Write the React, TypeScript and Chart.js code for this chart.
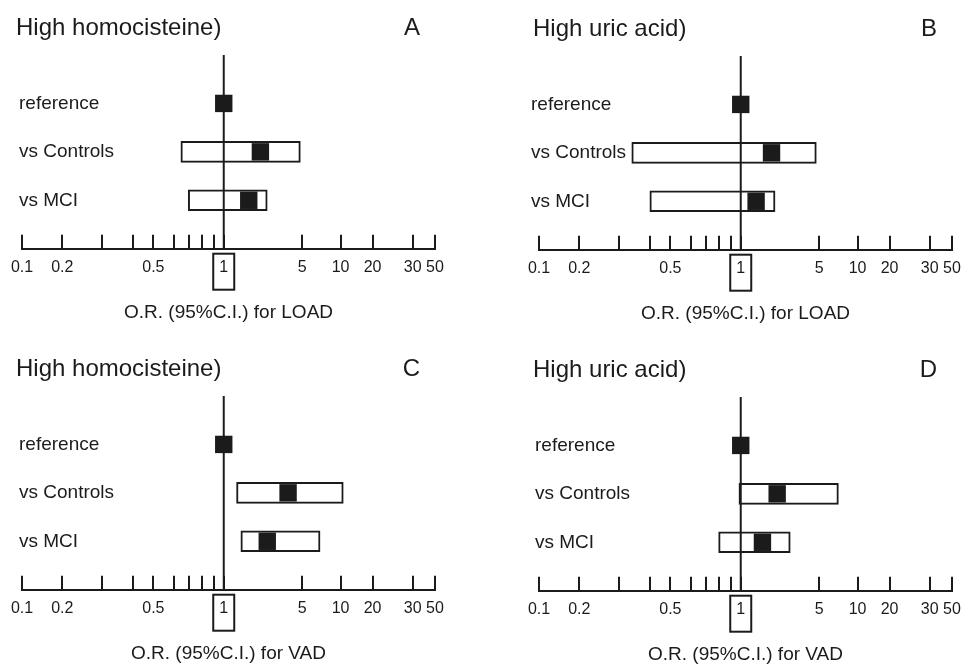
import React, { useEffect, useRef } from 'react';
import { Chart, registerables, LinearScale } from 'chart.js';

Chart.register(...registerables);

// ---------- data ----------
const ROWS = ['reference', 'vs Controls', 'vs MCI'];
const X_TICKS = [0.1, 0.2, 0.3, 0.4, 0.5, 0.6, 0.7, 0.8, 0.9, 1, 5, 10, 20, 30, 50];
const X_LABELED = [0.1, 0.2, 0.5, 1, 5, 10, 20, 30, 50];
const REF_VALUE = 1;

const PANEL_TITLES = ['High homocisteine)', 'High uric acid)', 'High homocisteine)', 'High uric acid)'];
const PANEL_LETTERS = ['A', 'B', 'C', 'D'];
const AXIS_TITLES = [
  'O.R. (95%C.I.) for LOAD',
  'O.R. (95%C.I.) for LOAD',
  'O.R. (95%C.I.) for VAD',
  'O.R. (95%C.I.) for VAD',
];

// A: homocysteine, LOAD
const OR_LOAD_HCY = [1, 2.12, 1.67];
const LOW_LOAD_HCY = [null, 0.644, 0.694];
const HIGH_LOAD_HCY = [null, 4.81, 2.44];
// B: uric acid, LOAD
const OR_LOAD_UA = [1, 1.88, 1.37];
const LOW_LOAD_UA = [null, 0.337, 0.4];
const HIGH_LOAD_UA = [null, 4.71, 2.02];
// C: homocysteine, VAD
const OR_VAD_HCY = [1, 3.74, 2.44];
const LOW_VAD_HCY = [null, 1.3, 1.42];
const HIGH_VAD_HCY = [null, 10.6, 6.9];
// D: uric acid, VAD
const OR_VAD_UA = [1, 2.11, 1.56];
const LOW_VAD_UA = [null, 0.98, 0.8];
const HIGH_VAD_UA = [null, 7.07, 2.76];

const PANEL_DATA = [
  { or: OR_LOAD_HCY, low: LOW_LOAD_HCY, high: HIGH_LOAD_HCY },
  { or: OR_LOAD_UA, low: LOW_LOAD_UA, high: HIGH_LOAD_UA },
  { or: OR_VAD_HCY, low: LOW_VAD_HCY, high: HIGH_VAD_HCY },
  { or: OR_VAD_UA, low: LOW_VAD_UA, high: HIGH_VAD_UA },
];

// ---------- axis geometry (hand-drawn, non-uniform log axis) ----------
const AXIS_SPAN = 412.5;
const X_TICK_FRACTIONS = [0, 40.2, 80.4, 110.7, 131.2, 151.7, 166.9, 179.4, 192, 201.5, 279.9, 318.2, 350.2, 390.2, 412.5].map(
  (v) => v / AXIS_SPAN
);

function segmentFor(v: number): number {
  const n = X_TICKS.length;
  if (v <= X_TICKS[0]) return 0;
  if (v >= X_TICKS[n - 1]) return n - 2;
  let i = 0;
  while (i < n - 2 && v > X_TICKS[i + 1]) i++;
  return i;
}
function valueToFraction(v: number): number {
  const i = segmentFor(v);
  const t = Math.log(v / X_TICKS[i]) / Math.log(X_TICKS[i + 1] / X_TICKS[i]);
  return X_TICK_FRACTIONS[i] + t * (X_TICK_FRACTIONS[i + 1] - X_TICK_FRACTIONS[i]);
}
function fractionToValue(f: number): number {
  const n = X_TICK_FRACTIONS.length;
  let i = 0;
  while (i < n - 2 && f > X_TICK_FRACTIONS[i + 1]) i++;
  const t = (f - X_TICK_FRACTIONS[i]) / (X_TICK_FRACTIONS[i + 1] - X_TICK_FRACTIONS[i]);
  return X_TICKS[i] * Math.pow(X_TICKS[i + 1] / X_TICKS[i], t);
}

class HandDrawnLogScale extends LinearScale {
  static id = 'handlog';
  static defaults = {};
  determineDataLimits() {
    (this as any).min = X_TICKS[0];
    (this as any).max = X_TICKS[X_TICKS.length - 1];
  }
  buildTicks() {
    return X_TICKS.map((value) => ({ value }));
  }
  getPixelForValue(value: any) {
    if (value === null || value === undefined || !(value > 0)) return NaN;
    return (this as any).getPixelForDecimal(valueToFraction(value));
  }
  getValueForPixel(pixel: number) {
    return fractionToValue((this as any).getDecimalForPixel(pixel));
  }
}
Chart.register(HandDrawnLogScale as any);

// ---------- styles ----------
const INK = '#1b1b1b';
const FONT = "'Liberation Sans', Arial, Helvetica, sans-serif";
const CANVAS_W = 449;
const CANVAS_H = 325;
const PANEL_POS = [
  { left: 0, top: 0, labelPad: -3 },
  { left: 517, top: 1, labelPad: -8 },
  { left: 0, top: 341, labelPad: -3 },
  { left: 517, top: 342, labelPad: -4 },
];

const decorPlugin = {
  id: 'decor',
  afterDatasetsDraw(chart: any) {
    const { ctx, chartArea } = chart;
    const px = chart.scales.x.getPixelForValue(REF_VALUE);
    ctx.save();
    ctx.strokeStyle = INK;
    ctx.lineWidth = 2;
    ctx.beginPath();
    ctx.moveTo(px, chartArea.top);
    ctx.lineTo(px, chartArea.bottom);
    ctx.stroke();
    ctx.restore();
  },
  afterDraw(chart: any, _args: any, opts: any) {
    const { ctx, chartArea } = chart;
    const px = chart.scales.x.getPixelForValue(REF_VALUE);
    ctx.save();
    // box around the "1" label
    ctx.strokeStyle = INK;
    ctx.lineWidth = 2;
    ctx.strokeRect(px - 10.5, chartArea.bottom + 5, 21, 36);
    // panel letter
    ctx.fillStyle = INK;
    ctx.font = `24px ${FONT}`;
    ctx.textAlign = 'right';
    ctx.textBaseline = 'middle';
    ctx.fillText(opts.letter, chartArea.right - 15, chartArea.top - 26.5);
    ctx.restore();
  },
};

function buildConfig(idx: number): any {
  const d = PANEL_DATA[idx];
  const barData: any[] = [];
  const pointData: any[] = [];
  ROWS.forEach((_r, i) => {
    if (d.low[i] !== null && d.high[i] !== null) {
      barData.push({ y: i, x: [d.low[i], d.high[i]] });
    }
    pointData.push({ y: i, x: d.or[i] });
  });

  return {
    type: 'bar',
    data: {
      datasets: [
        {
          type: 'bar',
          label: '95% C.I.',
          data: barData,
          backgroundColor: '#ffffff',
          borderColor: INK,
          borderWidth: 2,
          borderSkipped: false,
          barThickness: 21,
          order: 2,
        },
        {
          type: 'line',
          label: 'O.R.',
          data: pointData,
          showLine: false,
          pointStyle: 'rect',
          pointRadius: 12.3,
          pointHoverRadius: 12.3,
          pointBackgroundColor: INK,
          pointBorderWidth: 0,
          order: 1,
          clip: false,
        },
      ],
    },
    options: {
      indexAxis: 'y',
      animation: false,
      responsive: false,
      devicePixelRatio: 1,
      layout: { padding: { left: 16, right: 14, top: 0, bottom: 0 } },
      plugins: {
        legend: { display: false },
        tooltip: { enabled: false },
        title: {
          display: true,
          text: PANEL_TITLES[idx],
          align: 'start',
          color: INK,
          font: { family: FONT, size: 24, weight: 'normal' },
          padding: { top: 14.1, bottom: 12.1 },
        },
        decor: { letter: PANEL_LETTERS[idx] },
      },
      scales: {
        x: {
          type: 'handlog',
          position: 'bottom',
          grid: {
            display: true,
            drawOnChartArea: false,
            drawTicks: true,
            tickLength: -14,
            color: INK,
            lineWidth: 2,
          },
          border: { display: true, color: INK, width: 2 },
          ticks: {
            autoSkip: false,
            maxRotation: 0,
            minRotation: 0,
            padding: 23,
            color: INK,
            font: { family: FONT, size: 16 },
            callback: (value: number) => (X_LABELED.includes(value) ? String(value) : ''),
          },
          title: {
            display: true,
            text: AXIS_TITLES[idx],
            color: INK,
            font: { family: FONT, size: 19 },
            padding: { top: 1.7, bottom: 0.6 },
          },
          afterFit: (scale: any) => {
            scale.paddingLeft = 0;
            scale.paddingRight = 0;
          },
        },
        y: {
          type: 'linear',
          position: 'left',
          reverse: true,
          min: -1,
          max: 3,
          offset: false,
          grid: { display: false, offset: false, drawTicks: false },
          border: { display: false },
          ticks: {
            stepSize: 1,
            mirror: true,
            padding: PANEL_POS[idx].labelPad,
            color: INK,
            font: { family: FONT, size: 19 },
            callback: (value: number) =>
              Number.isInteger(value) && ROWS[value] !== undefined ? ROWS[value] : '',
          },
          afterFit: (scale: any) => {
            scale.width = 6;
            scale.paddingTop = 0;
            scale.paddingBottom = 0;
          },
        },
      },
    },
    plugins: [decorPlugin],
  };
}

function Panel({ idx }: { idx: number }) {
  const ref = useRef<HTMLCanvasElement | null>(null);
  useEffect(() => {
    if (!ref.current) return;
    const chart = new Chart(ref.current, buildConfig(idx));
    return () => chart.destroy();
  }, [idx]);
  const pos = PANEL_POS[idx];
  return (
    <canvas
      ref={ref}
      width={CANVAS_W}
      height={CANVAS_H}
      style={{ position: 'absolute', left: pos.left, top: pos.top, width: CANVAS_W, height: CANVAS_H }}
    />
  );
}

export default function App() {
  return (
    <div
      style={{
        position: 'fixed',
        left: 0,
        top: 0,
        width: 966,
        height: 666,
        overflow: 'hidden',
        background: '#ffffff',
      }}
    >
      {[0, 1, 2, 3].map((i) => (
        <Panel key={i} idx={i} />
      ))}
    </div>
  );
}
